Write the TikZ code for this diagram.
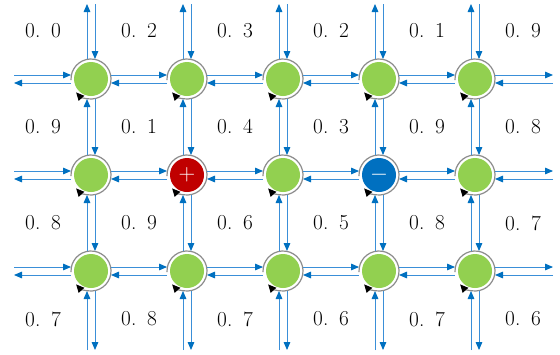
\documentclass[tikz,border=0pt]{standalone}
\usetikzlibrary{arrows.meta}
\definecolor{Leaf}{HTML}{92D050}
\definecolor{Flow}{HTML}{0070C0}
\definecolor{Line}{HTML}{3A8FD8}
\definecolor{Pole}{HTML}{C00000}
\definecolor{Ring}{HTML}{8C8C8C}

\tikzset{
  site/.style={circle,fill=Leaf,minimum size=25.5pt,inner sep=0pt,outer sep=2.25pt,
    text=white,font=\fontsize{19}{19}\selectfont},
  plus/.style={site,fill=Pole},
  minus/.style={site,fill=Flow},
  flow/.style={draw=Line,line width=0.65pt,-{Triangle[length=6pt,width=5pt,color=Flow]}},
  spin/.style={draw=Ring,line width=0.9pt,-{Triangle[length=6pt,width=5.5pt,color=black]}},
  prob/.style={font=\fontsize{16}{18}\selectfont}
}

\begin{document}
\begin{tikzpicture}[x=0.75pt,y=0.75pt]
  \useasboundingbox (0,0) rectangle (560,-354);

  % sites
  \foreach \r in {1,3}
    \foreach \c in {1,...,5}
      \node[site] (n-\r-\c) at ({91+96*(\c-1)},{-79-96*(\r-1)}) {};
  \foreach \c/\kind/\sign in {1/site/,2/plus/$+$,3/site/,4/minus/$-$,5/site/}
    \node[\kind] (n-2-\c) at ({91+96*(\c-1)},-175) {\sign};

  % rotation marks
  \foreach \r in {1,2,3}
    \foreach \c in {1,...,5}
      \draw[spin] ([shift={(183:15pt)}]n-\r-\c.center) arc[start angle=183,end angle=-138,radius=15pt];

  % free ends
  \foreach \r in {1,2,3}{
    \coordinate (w-\r) at (14,{-79-96*(\r-1)});
    \coordinate (e-\r) at (553,{-79-96*(\r-1)});
  }
  \foreach \c in {1,...,5}{
    \coordinate (t-\c) at ({91+96*(\c-1)},-4);
    \coordinate (b-\c) at ({91+96*(\c-1)},-350);
  }

  % horizontal flows
  \foreach \r in {1,2,3}{
    \foreach \c [evaluate=\c as \d using int(\c+1)] in {1,...,4}{
      \draw[flow] ([yshift=3pt]n-\r-\c.east) -- ([yshift=3pt]n-\r-\d.west);
      \draw[flow] ([yshift=-3pt]n-\r-\d.west) -- ([yshift=-3pt]n-\r-\c.east);
    }
    \draw[flow] ([yshift=3pt]w-\r) -- ([yshift=3pt]n-\r-1.west);
    \draw[flow] ([yshift=-3pt]n-\r-1.west) -- ([yshift=-3pt]w-\r);
    \draw[flow] ([yshift=3pt]n-\r-5.east) -- ([yshift=3pt]e-\r);
    \draw[flow] ([yshift=-3pt]e-\r) -- ([yshift=-3pt]n-\r-5.east);
  }

  % vertical flows
  \foreach \c in {1,...,5}{
    \foreach \r [evaluate=\r as \s using int(\r+1)] in {1,2}{
      \draw[flow] ([xshift=3pt]n-\r-\c.south) -- ([xshift=3pt]n-\s-\c.north);
      \draw[flow] ([xshift=-3pt]n-\s-\c.north) -- ([xshift=-3pt]n-\r-\c.south);
    }
    \draw[flow] ([xshift=3pt]t-\c) -- ([xshift=3pt]n-1-\c.north);
    \draw[flow] ([xshift=-3pt]n-1-\c.north) -- ([xshift=-3pt]t-\c);
    \draw[flow] ([xshift=3pt]n-3-\c.south) -- ([xshift=3pt]b-\c);
    \draw[flow] ([xshift=-3pt]b-\c) -- ([xshift=-3pt]n-3-\c.south);
  }

  % values
  \foreach \row [count=\j] in {{0,2,3,2,1,9},{9,1,4,3,9,8},{8,9,6,5,8,7},{7,8,7,6,7,6}}
    \foreach \v [count=\i] in \row
      \node[prob] (p-\j-\i) at ({43+96*(\i-1)},{-31-96*(\j-1)}) {0.\enspace\v};
\end{tikzpicture}
\end{document}
